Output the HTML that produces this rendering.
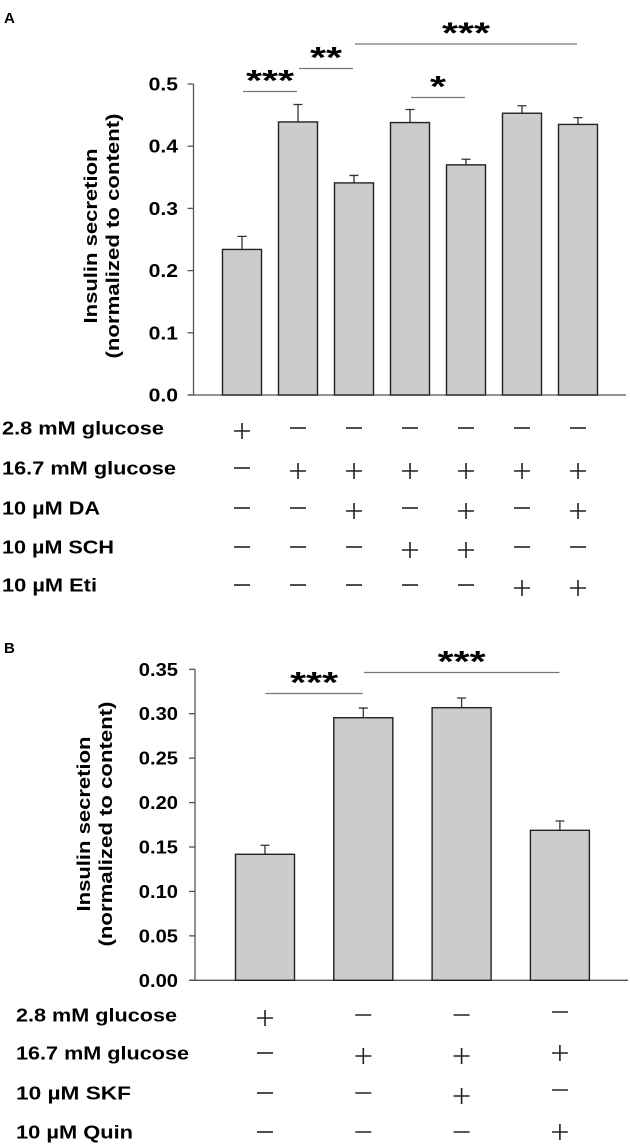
<!DOCTYPE html>
<html><head><meta charset="utf-8"><style>
html,body{margin:0;padding:0;background:#fff;}
svg{display:block;font-family:"Liberation Sans",Arial,sans-serif;}
</style></head><body>
<svg id="fig" width="630" height="1147" viewBox="0 0 630 1147" xmlns="http://www.w3.org/2000/svg">
<text x="4" y="23" font-size="15" font-weight="bold">A</text>
<text x="4" y="653" font-size="15" font-weight="bold">B</text>
<g id="chartA"></g>
<g id="chartB"></g>
</svg>
<script>
// Panel A data
const catsA = ["c1","c2","c3","c4","c5","c6","c7"];
const valsA = [0.234, 0.439, 0.341, 0.438, 0.370, 0.453, 0.435];
const errsA = [0.021, 0.028, 0.012, 0.021, 0.009, 0.012, 0.011];
const ticksA = ["0.0","0.1","0.2","0.3","0.4","0.5"];
const tickValsA = [0, 0.1, 0.2, 0.3, 0.4, 0.5];
const rowLabelsA = ["2.8 mM glucose","16.7 mM glucose","10 µM DA","10 µM SCH","10 µM Eti"];
const signsA = [
 ["+","-","-","-","-","-","-"],
 ["-","+","+","+","+","+","+"],
 ["-","-","+","-","+","-","+"],
 ["-","-","-","+","+","-","-"],
 ["-","-","-","-","-","+","+"]];
const sigA = [{from:0,to:1,label:"***"},{from:1,to:2,label:"**"},{from:2,to:6,label:"***"},{from:3,to:4,label:"*"}];

// Panel B data
const catsB = ["d1","d2","d3","d4"];
const valsB = [0.1418, 0.2955, 0.3068, 0.1688];
const errsB = [0.0102, 0.0109, 0.0109, 0.0105];
const ticksB = ["0.00","0.05","0.10","0.15","0.20","0.25","0.30","0.35"];
const tickValsB = [0,0.05,0.10,0.15,0.20,0.25,0.30,0.35];
const rowLabelsB = ["2.8 mM glucose","16.7 mM glucose","10 µM  SKF","10 µM Quin"];
const signsB = [
 ["+","-","-","-"],
 ["-","+","+","+"],
 ["-","-","+","-"],
 ["-","-","-","+"]];
const sigB = [{from:0,to:1,label:"***"},{from:1,to:3,label:"***"}];

const NS="http://www.w3.org/2000/svg";
function mk(parent,tag,attrs,txt){const e=document.createElementNS(NS,tag);for(const k in attrs)e.setAttribute(k,attrs[k]);if(txt!==undefined)e.textContent=txt;parent.appendChild(e);return e;}

function draw(g,cfg){
  const {cats,vals,errs,ticks,tickVals,rowLabels,signs,sig}=cfg;
  const y=v=>cfg.y0-(v/cfg.ymax)*(cfg.y0-cfg.ytop);
  const x=i=>cfg.x0+i*cfg.step;
  // axes
  let ax=mk(g,"line",{x1:cfg.axX,y1:cfg.ytop,x2:cfg.axX,y2:cfg.y0,stroke:"#555","stroke-width":1.3});
  
  
  let bx=mk(g,"line",{x1:cfg.axX-5,y1:cfg.y0,x2:cfg.axEnd,y2:cfg.y0,stroke:"#555","stroke-width":1.3});
  
  
  tickVals.forEach((v,i)=>{
    const t=mk(g,"line",{x1:cfg.axX-6,y1:y(v),x2:cfg.axX,y2:y(v),stroke:"#555","stroke-width":1.3});
    
    
    const l=mk(g,"text",{x:178,y:y(v)+6.5,"text-anchor":"end","font-size":18,"font-weight":"bold",textLength:ticks[i].length*9.8,lengthAdjust:"spacingAndGlyphs"},ticks[i]);
    
    
  });
  // y title
  const t1=mk(g,"text",{x:0,y:0,transform:`translate(${cfg.tx1},${cfg.tcy}) rotate(-90)`,"text-anchor":"middle","font-size":18,"font-weight":"bold",textLength:175,lengthAdjust:"spacingAndGlyphs"},"Insulin secretion");
  
  
  const t2=mk(g,"text",{x:0,y:0,transform:`translate(${cfg.tx1+22},${cfg.tcy}) rotate(-90)`,"text-anchor":"middle","font-size":18,"font-weight":"bold",textLength:245,lengthAdjust:"spacingAndGlyphs"},"(normalized to content)");
  
  
  // bars
  cats.forEach((c,i)=>{
    const cx=x(i);
    const eb=mk(g,"path",{d:`M${cx},${y(vals[i])} V${y(vals[i]+errs[i])} M${cx-4.5},${y(vals[i]+errs[i])} H${cx+4.5}`,stroke:"#333","stroke-width":1.3,fill:"none"});
    
    
    const r=mk(g,"rect",{x:cx-cfg.bw/2,y:y(vals[i]),width:cfg.bw,height:cfg.y0-y(vals[i]),fill:"#cccccc",stroke:"#222","stroke-width":1.4});
    
    
  });
  // significance
  sig.forEach((s,k)=>{
    const ly=cfg.sigY[k];
    const ln=mk(g,"line",{x1:x(s.from)+cfg.sigPad,y1:ly,x2:x(s.to)-cfg.sigPad,y2:ly,stroke:"#777","stroke-width":1.2});
    
    
    const mx=(x(s.from)+x(s.to))/2;
    const st=mk(g,"text",{x:mx,y:ly-1,"text-anchor":"middle","font-size":30,"font-weight":"bold",textLength:s.label.length*16,lengthAdjust:"spacingAndGlyphs"},s.label);
    
    
  });
  // table
  rowLabels.forEach((lab,r)=>{
    const ry=cfg.rows[r];
    const tl=mk(g,"text",{x:cfg.labX,y:ry+6.5,"font-size":18,"font-weight":"bold",textLength:cfg.labW[r],lengthAdjust:"spacingAndGlyphs"},lab);
    
    
    signs[r].forEach((s,i)=>{
      const cx=x(i), cy=ry+(s==="+"?3:0)+(cfg.lastShift&&i===cats.length-1?-3:0);
      const d = s==="+" ? `M${cx-8},${cy} H${cx+8} M${cx},${cy-8} V${cy+8}` : `M${cx-8},${cy} H${cx+8}`;
      const p=mk(g,"path",{d:d,stroke:"#222","stroke-width":1.6,fill:"none"});
      
      
    });
  });
}

draw(document.getElementById("chartA"),{cats:catsA,vals:valsA,errs:errsA,ticks:ticksA,tickVals:tickValsA,rowLabels:rowLabelsA,signs:signsA,sig:sigA,
  y0:395,ytop:84,ymax:0.5,axX:193.5,axEnd:626,x0:242,step:56,bw:39,tx1:97,tcy:236,
  sigY:[91.5,68.5,44,97.5],sigPad:1,labX:2,labW:[162,174,98,112,95],rows:[428,468,508,547,585]});
draw(document.getElementById("chartB"),{cats:catsB,vals:valsB,errs:errsB,ticks:ticksB,tickVals:tickValsB,rowLabels:rowLabelsB,signs:signsB,sig:sigB,
  y0:980.3,ytop:669.3,ymax:0.35,axX:195,axEnd:628,x0:265,step:98.3,bw:59,tx1:90,tcy:824,
  sigY:[693.5,672.5],sigPad:0.5,labX:16,labW:[161,173,115,117],rows:[1015,1053,1093,1132],lastShift:true});
</script>
</body></html>
